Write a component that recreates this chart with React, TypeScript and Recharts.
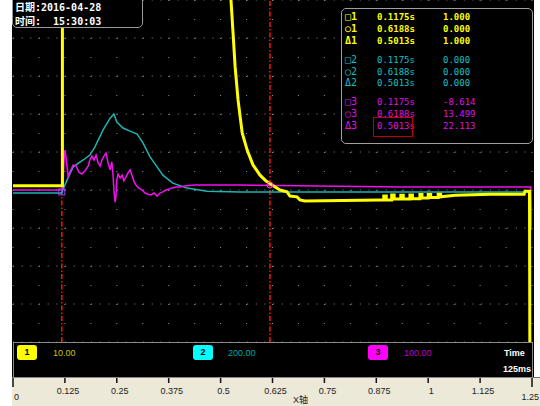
import React from 'react';
import { ComposedChart, Line, XAxis, YAxis, CartesianGrid, ReferenceLine, ReferenceDot } from 'recharts';

// ---- data (time in s, value in screen divisions from bottom) ----
const ch1Time = [0, 0.119, 0.119, 0.5, 0.515, 0.525, 0.53, 0.535, 0.542, 0.552, 0.564, 0.578, 0.595, 0.609, 0.624, 0.643, 0.66, 0.667, 0.684, 0.691, 0.703,
  0.884, 0.893, 0.893, 0.899, 0.899, 0.912, 0.912, 0.918, 0.918, 0.934, 0.934, 0.94, 0.94, 0.956, 0.956, 0.962, 0.962, 0.98, 0.98, 0.985, 0.985, 1.0, 1.0, 1.006, 1.006, 1.024, 1.024, 1.03, 1.03, 1.065,
  1.149, 1.231, 1.233, 1.244, 1.245];
const ch1Val = [4.11, 4.11, 12, 12, 10.5, 9.0, 8.13, 7.24, 6.37, 5.5, 5.05, 4.66, 4.39, 4.24, 4.13, 4.0, 3.95, 3.84, 3.82, 3.74, 3.71,
  3.74, 3.74, 3.84, 3.84, 3.74, 3.74, 3.87, 3.87, 3.76, 3.76, 3.86, 3.86, 3.76, 3.76, 3.87, 3.87, 3.77, 3.77, 3.88, 3.88, 3.79, 3.79, 3.88, 3.88, 3.8, 3.8, 3.89, 3.89, 3.82, 3.86,
  3.89, 3.89, 3.97, 3.97, -1];

const ch2Time = [0, 0.118, 0.12, 0.13, 0.145, 0.169, 0.185, 0.197, 0.217, 0.234, 0.243, 0.25, 0.265, 0.282, 0.299, 0.313, 0.33, 0.347, 0.361, 0.385, 0.419, 0.467, 0.547, 1.245, 1.246];
const ch2Val = [3.92, 3.92, 4.0, 4.26, 4.61, 4.79, 4.92, 5.13, 5.58, 5.89, 6.0, 5.79, 5.63, 5.55, 5.47, 5.24, 4.87, 4.61, 4.39, 4.18, 4.05, 3.97, 3.95, 3.95, -1];

const ch3Time = [0, 0.118, 0.12, 0.123, 0.125, 0.128, 0.133, 0.137, 0.145, 0.152, 0.159, 0.166, 0.173, 0.181, 0.185, 0.19, 0.195, 0.2, 0.205, 0.21, 0.214, 0.219, 0.224, 0.229, 0.234, 0.238, 0.241, 0.243, 0.246, 0.248, 0.25, 0.253, 0.258, 0.263, 0.267, 0.272, 0.277, 0.282, 0.287, 0.291, 0.296, 0.303, 0.311, 0.318, 0.325, 0.332, 0.34, 0.347, 0.354, 0.361, 0.368, 0.376, 0.383, 0.393, 0.402, 0.417, 0.438, 0.474, 0.547, 0.691, 0.932, 1.247, 1.25];
const ch3Val = [4.0, 4.0, 4.05, 4.79, 5.05, 4.84, 4.34, 4.47, 4.66, 4.63, 4.47, 4.42, 4.5, 4.63, 4.79, 4.89, 4.79, 4.92, 4.71, 4.63, 4.79, 4.89, 4.97, 4.71, 4.53, 4.74, 4.39, 4.0, 3.68, 3.84, 4.26, 4.42, 4.32, 4.39, 4.24, 4.34, 4.45, 4.53, 4.37, 4.24, 4.13, 4.05, 4.0, 3.92, 3.89, 3.87, 3.92, 3.84, 3.92, 3.95, 4.0, 4.03, 4.05, 4.08, 4.08, 4.11, 4.13, 4.13, 4.13, 4.11, 4.08, 4.08, 2.95];

const xGridTicks = [0, 0.0625, 0.125, 0.1875, 0.25, 0.3125, 0.375, 0.4375, 0.5, 0.5625, 0.625, 0.6875, 0.75, 0.8125, 0.875, 0.9375, 1, 1.0625, 1.125, 1.1875, 1.25];
const yGridTicks = [0, 1, 2, 3, 4, 5, 6, 7, 8, 9];

const cursorTimes = [0.1175, 0.6188];

const cursorRows = [
  { sym: '\u25A11', time: '0.1175s', val: '1.000', color: '#FFFF00', bold: true },
  { sym: '\u25CB1', time: '0.6188s', val: '0.000', color: '#FFFF00', bold: true },
  { sym: '\u03941', time: '0.5013s', val: '1.000', color: '#FFFF00', bold: true },
  { sym: '\u25A12', time: '0.1175s', val: '0.000', color: '#10C0C8', bold: false },
  { sym: '\u25CB2', time: '0.6188s', val: '0.000', color: '#10C0C8', bold: false },
  { sym: '\u03942', time: '0.5013s', val: '0.000', color: '#10C0C8', bold: false },
  { sym: '\u25A13', time: '0.1175s', val: '-8.614', color: '#E010E0', bold: false },
  { sym: '\u25CB3', time: '0.6188s', val: '13.499', color: '#E010E0', bold: false },
  { sym: '\u03943', time: '0.5013s', val: '22.113', color: '#E010E0', bold: false },
];
const cursorRowY = [17, 29, 41, 60, 72, 83, 102, 114, 126];

const channels = [
  { id: '1', scale: '10.00', box: '#FFFF00', text: '#C8C800', left: 17, textLeft: 53 },
  { id: '2', scale: '200.00', box: '#00FFFF', text: '#00A8A8', left: 193, textLeft: 228 },
  { id: '3', scale: '100.00', box: '#FF00FF', text: '#C000C0', left: 368, textLeft: 404 },
];

const zip = (ts: number[], vs: number[]) => ts.map((t, i) => ({ t, v: vs[i] }));
const ch1Data = zip(ch1Time, ch1Val);
const ch2Data = zip(ch2Time, ch2Val);
const ch3Data = zip(ch3Time, ch3Val);

const XTick = (props: any) => {
  const { x, payload } = props;
  const v = payload.value as number;
  const major = Math.abs(v * 8 - Math.round(v * 8)) < 1e-6;
  if (!major) return <g />;
  const first = v === 0;
  const last = v >= 1.25;
  const edge = first || last;
  const label = String(v);
  return (
    <g>
      <line x1={x} x2={x} y1={378} y2={edge ? 387 : 383} stroke="#111" strokeWidth={1.5} />
      <text
        x={first ? x + 1 : last ? 539 : x + 3}
        y={edge ? 400 : 394}
        textAnchor={first ? 'start' : last ? 'end' : 'middle'}
        fontFamily="'Liberation Sans', Arial, sans-serif"
        fontSize={9}
        fill="#222"
      >
        {label}
      </text>
    </g>
  );
};

const mono = "'DejaVu Sans Mono', 'Noto Sans CJK SC', monospace";
const sans = "'Liberation Sans', Arial, sans-serif";

export default function App() {
  return (
    <div style={{ position: 'fixed', left: 0, top: 0, width: 540, height: 406, background: '#fff', overflow: 'hidden' }}>
      {/* black scope panel */}
      <div style={{ position: 'absolute', left: 12, top: 0, width: 522, height: 378, background: '#000' }} />
      {/* beige axis strip */}
      <div style={{ position: 'absolute', left: 12, top: 377, width: 528, height: 29, background: '#ECE9D8', borderTop: '1px solid #707070', boxSizing: 'border-box' }} />
      {/* channel band */}
      <div style={{ position: 'absolute', left: 13, top: 342, width: 520, height: 36, background: '#000', border: '1px solid #8a8a8a', boxSizing: 'border-box' }} />

      <div style={{ position: 'absolute', left: 0, top: 0 }}>
        <ComposedChart width={540} height={406} margin={{ top: 0, right: 8, bottom: 0, left: 13 }}>
          <CartesianGrid horizontal vertical={false} stroke="#8c8c8c" strokeDasharray="1 7.67" />
          <CartesianGrid horizontal={false} vertical stroke="#8c8c8c" strokeDasharray="1 18" />
          <XAxis
            type="number"
            dataKey="t"
            domain={[0, 1.25]}
            ticks={xGridTicks}
            interval={0}
            height={64}
            axisLine={false}
            tickLine={false}
            tick={<XTick />}
            allowDataOverflow
          />
          <YAxis hide type="number" domain={[0, 9]} ticks={yGridTicks} allowDataOverflow />
          {cursorTimes.map((ct) => (
            <ReferenceLine key={ct} x={ct} stroke="#FF1010" strokeWidth={1.5} strokeDasharray="5 2 1.5 2" />
          ))}
          <Line data={ch2Data} dataKey="v" type="linear" stroke="#1CB4B4" strokeWidth={1.5} dot={false} isAnimationActive={false} />
          <Line data={ch3Data} dataKey="v" type="linear" stroke="#F010F0" strokeWidth={1.5} dot={false} isAnimationActive={false} />
          <Line data={ch1Data} dataKey="v" type="linear" stroke="#FFFF00" strokeWidth={3} dot={false} isAnimationActive={false} />
          <ReferenceDot
            x={cursorTimes[0]}
            y={3.95}
            r={3}
            shape={(p: any) => <rect x={p.cx - 3} y={p.cy - 3} width={6} height={6} fill="none" stroke="#A040FF" strokeWidth={1} />}
          />
          <ReferenceDot x={cursorTimes[1]} y={4.13} r={3} fill="none" stroke="#FF40C0" strokeWidth={1} />
        </ComposedChart>
      </div>

      {/* date / time box */}
      <div
        style={{
          position: 'absolute', left: 12, top: -4, width: 131, height: 32, background: '#000',
          border: '1px solid #9a9a9a', borderRadius: 5, boxSizing: 'border-box',
        }}
      />
      <div style={{ position: 'absolute', left: 15, top: 1, whiteSpace: 'pre', color: '#fff', fontFamily: mono, fontSize: 10, fontWeight: 'bold', lineHeight: '14px' }}>
        {'日期:2016-04-28'}
      </div>
      <div style={{ position: 'absolute', left: 15, top: 15, whiteSpace: 'pre', color: '#fff', fontFamily: mono, fontSize: 10, fontWeight: 'bold', lineHeight: '14px' }}>
        {'时间:  15:30:03'}
      </div>

      {/* cursor readout box */}
      <div
        style={{
          position: 'absolute', left: 341, top: 8, width: 192, height: 136, background: '#000',
          border: '1px solid #a0a0a0', borderRadius: 5, boxSizing: 'border-box',
        }}
      />
      {cursorRows.map((r, i) => (
        <React.Fragment key={i}>
          <div style={{ position: 'absolute', left: 345, top: cursorRowY[i] - 6, lineHeight: '12px', fontFamily: mono, fontSize: 10, color: r.color, fontWeight: r.bold ? 'bold' : 'normal', whiteSpace: 'pre' }}>{r.sym}</div>
          <div style={{ position: 'absolute', left: 377, top: cursorRowY[i] - 6, lineHeight: '12px', fontFamily: mono, fontSize: 9, color: r.color, fontWeight: r.bold ? 'bold' : 'normal', whiteSpace: 'pre' }}>{r.time}</div>
          <div style={{ position: 'absolute', left: 443, top: cursorRowY[i] - 6, lineHeight: '12px', fontFamily: mono, fontSize: 9, color: r.color, fontWeight: r.bold ? 'bold' : 'normal', whiteSpace: 'pre' }}>{r.val}</div>
        </React.Fragment>
      ))}
      <div style={{ position: 'absolute', left: 373, top: 117, width: 40, height: 20, border: '1px solid #C00000', boxSizing: 'border-box' }} />

      {/* channel band content */}
      {channels.map((c) => (
        <React.Fragment key={c.id}>
          <div
            style={{
              position: 'absolute', left: c.left, top: 345, width: 20, height: 15, background: c.box, borderRadius: 3,
              color: '#000', fontFamily: sans, fontSize: 9, fontWeight: 'bold', lineHeight: '15px', textAlign: 'center',
            }}
          >
            {c.id}
          </div>
          <div style={{ position: 'absolute', left: c.textLeft, top: 347, lineHeight: '12px', fontFamily: sans, fontSize: 9, color: c.text }}>{c.scale}</div>
        </React.Fragment>
      ))}
      <div style={{ position: 'absolute', left: 504, top: 347, lineHeight: '12px', fontFamily: sans, fontSize: 9, fontWeight: 'bold', color: '#fff' }}>Time</div>
      <div style={{ position: 'absolute', left: 503, top: 363, lineHeight: '12px', fontFamily: sans, fontSize: 9, fontWeight: 'bold', color: '#fff' }}>125ms</div>

      {/* axis title */}
      <div style={{ position: 'absolute', left: 293, top: 395, lineHeight: '11px', fontFamily: "'Liberation Sans', 'Noto Sans CJK SC', sans-serif", fontSize: 9, color: '#222' }}>X轴</div>
    </div>
  );
}
